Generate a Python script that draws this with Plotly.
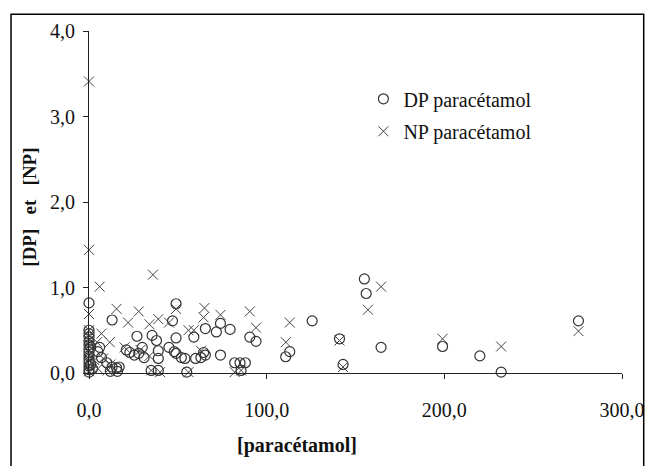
import plotly.graph_objects as go

# DP paracétamol (circles)
dp_x = [0, 0, 0, 0, 0, 0, 0, 0, 0, 0, 0, 0, 0, 0,
        1, 1, 2, 6, 7, 5, 10, 13, 15.5, 17, 12, 16,
        13, 21, 23, 25.5, 28, 31, 27, 30,
        35.5, 38, 39, 39, 35, 39,
        47, 49, 49, 45, 48, 49, 52, 54,
        55, 59, 60, 63, 65.5, 65.5, 64.5,
        71.7, 74, 74, 79.4, 82, 85, 88, 85.6,
        90.5, 94, 110.7, 113, 125.6, 141, 143,
        155, 156, 164.4, 199, 220, 232, 275.5]
dp_y = [0.82, 0.50, 0.46, 0.42, 0.37, 0.33, 0.28, 0.24, 0.20, 0.16, 0.12, 0.08, 0.04, 0.01,
        0.30, 0.10, 0.05, 0.30, 0.18, 0.25, 0.12, 0.07, 0.06, 0.07, 0.02, 0.02,
        0.62, 0.27, 0.24, 0.21, 0.23, 0.18, 0.43, 0.30,
        0.44, 0.38, 0.26, 0.17, 0.03, 0.03,
        0.61, 0.81, 0.41, 0.30, 0.25, 0.23, 0.18, 0.17,
        0.01, 0.42, 0.17, 0.18, 0.21, 0.52, 0.24,
        0.48, 0.58, 0.21, 0.51, 0.12, 0.12, 0.12, 0.03,
        0.42, 0.37, 0.19, 0.25, 0.61, 0.40, 0.10,
        1.10, 0.93, 0.30, 0.31, 0.20, 0.01, 0.61]

# NP paracétamol (crosses)
np_x = [0, 0, 0, 0, 0, 0, 0, 0, 0, 0, 0, 0,
        6, 36, 15.5, 28, 22, 34, 39, 45, 49,
        64.5, 56, 59, 7, 11.7, 4.5, 29, 8, 34, 35, 40, 56, 10.5, 63,
        3, 5, 12, 20,
        65, 74, 90.5, 94, 82, 85.6,
        110.8, 113, 141, 143, 157, 164.4, 199, 232, 275.5]
np_y = [3.41, 1.44, 0.69, 0.50, 0.44, 0.38, 0.32, 0.26, 0.20, 0.14, 0.08, 0.02,
        1.01, 1.15, 0.75, 0.72, 0.59, 0.57, 0.63, 0.59, 0.75,
        0.65, 0.50, 0.50, 0.46, 0.36, 0.36, 0.27, 0.17, 0.20, 0.03, 0.01, 0.01, 0.03, 0.26,
        0.15, 0.05, 0.10, 0.30,
        0.76, 0.68, 0.72, 0.53, 0.01, 0.03,
        0.36, 0.59, 0.38, 0.07, 0.74, 1.01, 0.40, 0.31, 0.49]

x_ticks = [0, 100, 200, 300]
y_ticks = [0, 1, 2, 3, 4]

FONT = "Liberation Serif"

# page body has an 8px margin: figure coords = screen coords - 8
OFF = 8
L, R, T, B = 89 - OFF, 629 - OFF, 25 - OFF, 373 - OFF
W, H = 657 - OFF, 466 - OFF

def px_x(p):
    return (p - OFF - L) / (R - L)

def px_y(p):
    return (B - (p - OFF)) / (B - T)

fig = go.Figure()
fig.add_trace(go.Scatter(
    x=dp_x, y=dp_y, mode="markers", name="DP paracétamol",
    cliponaxis=False, legend="legend2",
    marker=dict(symbol="circle-open", size=10, color="#333333", line=dict(width=1.2, color="#333333")),
))
fig.add_trace(go.Scatter(
    x=np_x, y=np_y, mode="markers", name="NP paracétamol",
    cliponaxis=False, legend="legend3",
    marker=dict(symbol="x-thin-open", size=10, color="#444444", line=dict(width=1, color="#444444")),
))

axis_common = dict(
    showline=True, linecolor="#222222", linewidth=1.2,
    ticks="outside", ticklen=5, tickcolor="#222222",
    showgrid=False, zeroline=False,
    tickfont=dict(family=FONT, size=20, color="#111111"),
    tickformat=".1f",
)

legend_common = dict(
    xanchor="left", yanchor="middle",
    bgcolor="rgba(0,0,0,0)", font=dict(family=FONT, size=20, color="#111111"),
)

fig.update_layout(
    width=W, height=H,
    margin=dict(l=L, r=W - R, t=T, b=H - B),
    plot_bgcolor="white", paper_bgcolor="white",
    separators=", ",
    font=dict(family=FONT, size=16, color="#111111"),
    xaxis=dict(range=[0, 300], tickvals=x_ticks, ticklabelstandoff=14, **axis_common),
    yaxis=dict(range=[0, 4], tickvals=y_ticks, ticklabelstandoff=4, **axis_common),
    legend2=dict(x=px_x(367), y=px_y(94), **legend_common),
    legend3=dict(x=px_x(367), y=px_y(127), **legend_common),
    annotations=[
        dict(text="<b>[paracétamol]</b>", xref="paper", yref="paper",
             x=px_x(300), y=px_y(447), xanchor="center", yanchor="middle",
             showarrow=False, font=dict(family=FONT, size=20, color="#111111")),
        dict(text="<b>[DP]\u00a0\u00a0\u00a0et\u00a0\u00a0\u00a0[NP]</b>", xref="paper", yref="paper",
             x=px_x(29), y=px_y(204), xanchor="center", yanchor="middle",
             textangle=-90, showarrow=False, font=dict(family=FONT, size=19, color="#111111")),
    ],
    shapes=[
        dict(type="rect", xref="paper", yref="paper",
             x0=px_x(10), x1=px_x(651), y0=px_y(480), y1=px_y(8),
             line=dict(color="black", width=1.5)),
    ],
)

fig.write_html("out.html")
